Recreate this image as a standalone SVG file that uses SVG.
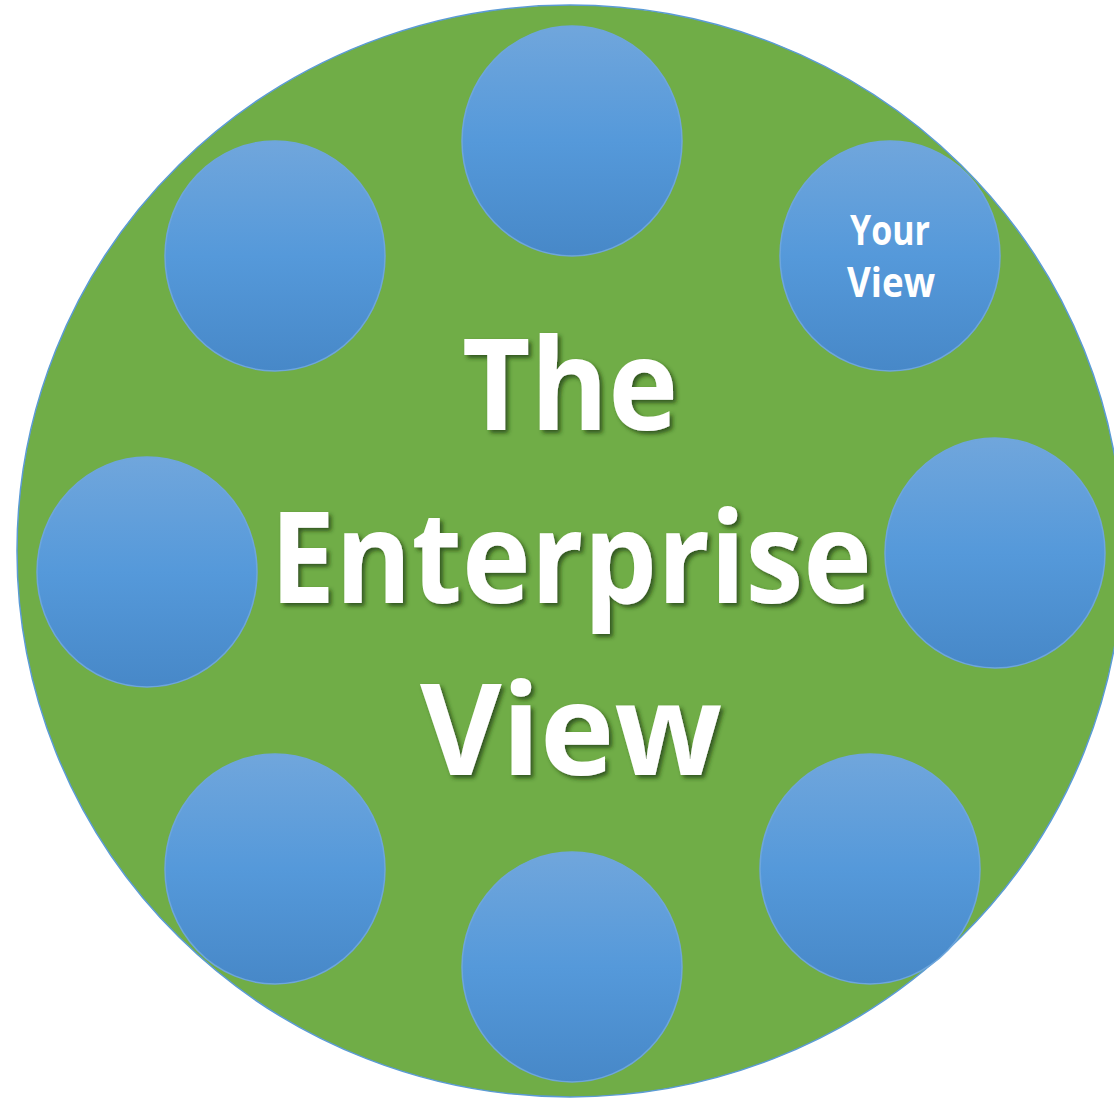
<svg xmlns="http://www.w3.org/2000/svg" width="1114" height="1099" viewBox="0 0 1114 1099">
<defs>
<linearGradient id="blue" x1="0" y1="0" x2="0" y2="1">
<stop offset="0" stop-color="#70a6dc"/>
<stop offset="0.5" stop-color="#5599da"/>
<stop offset="1" stop-color="#4788c8"/>
</linearGradient>
<filter id="sh" x="-10%" y="-10%" width="130%" height="130%">
<feGaussianBlur in="SourceAlpha" stdDeviation="2"/>
<feOffset dx="3" dy="3" result="o"/>
<feFlood flood-color="#1e3a10" flood-opacity="0.75"/>
<feComposite in2="o" operator="in"/>
<feMerge><feMergeNode/><feMergeNode in="SourceGraphic"/></feMerge>
</filter>
</defs>
<style>
.node{fill:url(#blue);stroke:#6ea6dc;stroke-width:1.5}
.big{font-family:"Open Sans","Noto Sans",sans-serif;font-weight:bold;fill:#fff;text-anchor:middle;font-size:128px}
.small{font-family:"Open Sans","Noto Sans",sans-serif;font-weight:bold;fill:#fff;text-anchor:middle;font-size:41px}
</style>
<rect width="1114" height="1099" fill="#fff"/>
<g id="enterprise">
<ellipse cx="570" cy="551" rx="553" ry="546" fill="#70ad47" stroke="#5b9bd5" stroke-width="1.5"/>
<g filter="url(#sh)">
<text class="big" x="570" y="430" textLength="216" lengthAdjust="spacingAndGlyphs">The</text>
<text class="big" x="571" y="603" textLength="602" lengthAdjust="spacingAndGlyphs">Enterprise</text>
<text class="big" x="571" y="775" textLength="302" lengthAdjust="spacingAndGlyphs">View</text>
</g>
</g>
<g id="n-top"><ellipse class="node" cx="572" cy="141" rx="110" ry="115"/></g>
<g id="n-topleft"><ellipse class="node" cx="275" cy="256" rx="110" ry="115"/></g>
<g id="n-yourview"><ellipse class="node" cx="890" cy="256" rx="110" ry="115"/>
<text class="small" x="890" y="245" textLength="80" lengthAdjust="spacingAndGlyphs">Your</text>
<text class="small" x="891" y="297" textLength="88" lengthAdjust="spacingAndGlyphs">View</text>
</g>
<g id="n-left"><ellipse class="node" cx="147" cy="572" rx="110" ry="115"/></g>
<g id="n-right"><ellipse class="node" cx="995" cy="553" rx="110" ry="115"/></g>
<g id="n-bottomleft"><ellipse class="node" cx="275" cy="869" rx="110" ry="115"/></g>
<g id="n-bottom"><ellipse class="node" cx="572" cy="967" rx="110" ry="115"/></g>
<g id="n-bottomright"><ellipse class="node" cx="870" cy="869" rx="110" ry="115"/></g>
<g id="connectors"/>
</svg>
